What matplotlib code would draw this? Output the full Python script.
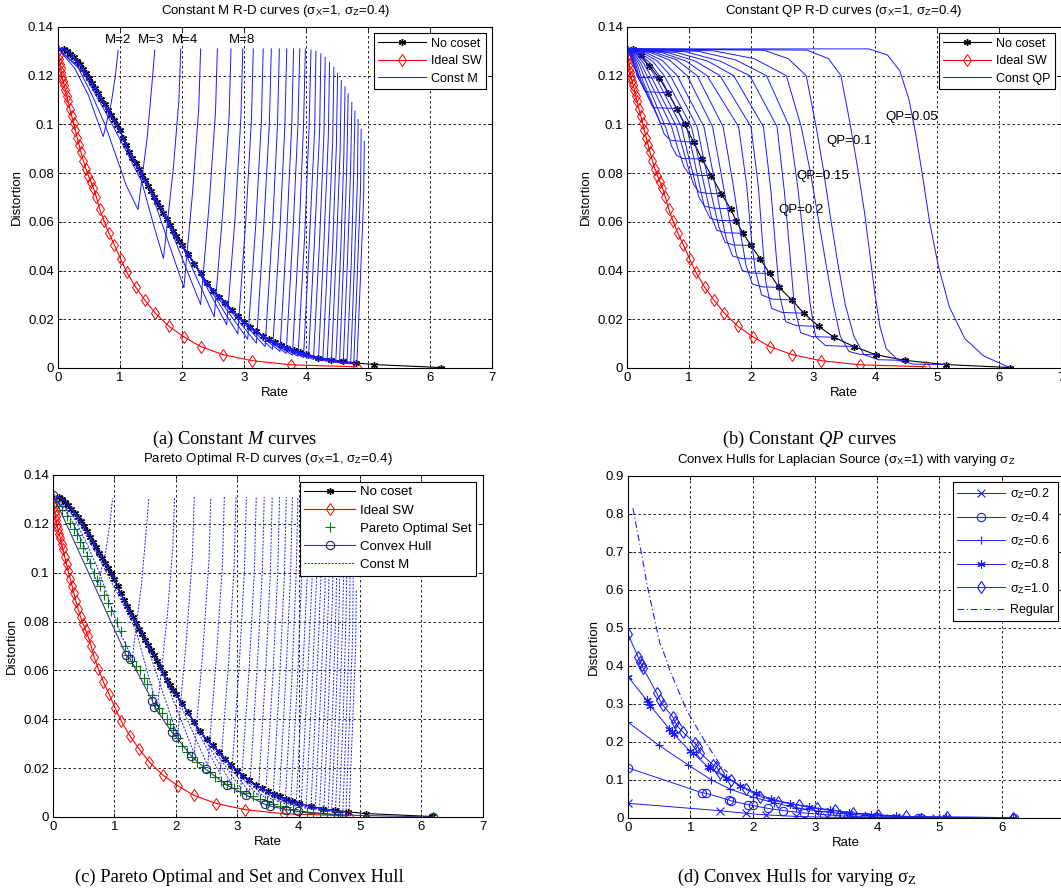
import matplotlib
matplotlib.use('Agg')
import matplotlib.pyplot as plt
from matplotlib.ticker import FuncFormatter

plt.rcParams['font.family'] = ['Liberation Sans', 'DejaVu Sans']
plt.rcParams['mathtext.fontset'] = 'custom'
plt.rcParams['mathtext.rm'] = 'Liberation Sans'
plt.rcParams['mathtext.it'] = 'Liberation Serif:italic'
plt.rcParams['mathtext.sf'] = 'Liberation Serif'

# ---------------- data ----------------
# no coset curve, dense sampling (panels a, c)
nocoset_rate = [0.10, 0.15, 0.20, 0.25, 0.30, 0.35, 0.40, 0.45, 0.50, 0.55, 0.60, 0.65, 0.70, 0.75,
                0.80, 0.85, 0.90, 0.95, 1.00, 1.05, 1.10, 1.15, 1.20, 1.25, 1.30, 1.35, 1.40, 1.45,
                1.50, 1.55, 1.60, 1.65, 1.70, 1.75, 1.80, 1.85, 1.90, 1.95, 2.00, 2.10, 2.20, 2.30,
                2.40, 2.50, 2.60, 2.70, 2.80, 2.90, 3.00, 3.10, 3.20, 3.30, 3.40, 3.50, 3.60, 3.70,
                3.80, 3.90, 4.00, 4.20, 4.40, 4.60, 4.80, 5.10, 6.17]
nocoset_dist = [0.1310, 0.1301, 0.1290, 0.1277, 0.1262, 0.1246, 0.1228, 0.1210, 0.1190, 0.1170,
                0.1148, 0.1127, 0.1104, 0.1082, 0.1060, 0.1039, 0.1018, 0.0997, 0.0975, 0.0945,
                0.0915, 0.0888, 0.0862, 0.0840, 0.0817, 0.0794, 0.0771, 0.0748, 0.0725, 0.0703,
                0.0682, 0.0661, 0.0638, 0.0612, 0.0588, 0.0562, 0.0541, 0.0521, 0.0503, 0.0466,
                0.0428, 0.0388, 0.0350, 0.0318, 0.0293, 0.0268, 0.0238, 0.0213, 0.0190, 0.0169,
                0.0150, 0.0132, 0.0118, 0.0105, 0.0094, 0.0084, 0.0074, 0.0065, 0.0056, 0.0043,
                0.0034, 0.0027, 0.0021, 0.0014, 0.0002]

# no coset curve as sampled in panel b (one star per QP)
nocoset_b_rate = [0.10, 0.22, 0.36, 0.52, 0.66, 0.80, 0.93, 1.075, 1.21, 1.36, 1.52, 1.67, 1.76, 1.87,
                  2.00, 2.15, 2.30, 2.45, 2.66, 2.85, 3.09, 3.34, 3.66, 4.02, 4.49, 5.15, 6.17]
nocoset_b_dist = [0.131, 0.1285, 0.124, 0.119, 0.113, 0.1065, 0.1000, 0.0926, 0.0858, 0.079, 0.0715,
                  0.0654, 0.0604, 0.0553, 0.0503, 0.0447, 0.0388, 0.0331, 0.0279, 0.0225, 0.0171,
                  0.0126, 0.0088, 0.0054, 0.0031, 0.0014, 0.0002]

# ideal Slepian-Wolf curve
ideal_rate = [0.00, 0.01, 0.02, 0.03, 0.04, 0.05, 0.065, 0.08, 0.10, 0.12, 0.14, 0.16, 0.19, 0.22,
              0.25, 0.28, 0.31, 0.34, 0.37, 0.41, 0.45, 0.49, 0.53, 0.57, 0.62, 0.67, 0.74, 0.82,
              0.91, 1.01, 1.11, 1.25, 1.40, 1.57, 1.79, 2.03, 2.30, 2.66, 3.13, 3.76, 4.82]
ideal_dist = [0.1300, 0.1285, 0.1268, 0.1250, 0.1232, 0.1215, 0.1195, 0.1178, 0.1160, 0.1140,
              0.1118, 0.1096, 0.1065, 0.1035, 0.1005, 0.0975, 0.0945, 0.0915, 0.0885, 0.0850,
              0.0817, 0.0790, 0.0765, 0.0740, 0.0700, 0.0654, 0.0604, 0.0553, 0.0505, 0.0447,
              0.0393, 0.0333, 0.0279, 0.0225, 0.0171, 0.0128, 0.0088, 0.0055, 0.0030, 0.0013, 0.0005]

# constant M curves, M = 2 .. 31
m_start_rate = 0.0
m_start_dist = 0.131
m_desc_rate = [[0.0, 0.27, 0.49, 0.62],
               [0.0, 0.30, 0.55, 0.76, 0.95, 1.10],
               [0.0, 0.40, 0.80, 1.10, 1.35, 1.55]]
m_desc_dist = [[0.131, 0.123, 0.112, 0.1026],
               [0.131, 0.1245, 0.112, 0.0998, 0.086, 0.075],
               [0.131, 0.1215, 0.1035, 0.089, 0.0765, 0.058]]
m_min_rate = [0.73, 1.29, 1.70, 2.03, 2.30, 2.52, 2.72, 2.90, 3.06, 3.20, 3.34, 3.46, 3.58, 3.68, 3.78,
              3.87, 3.96, 4.04, 4.12, 4.20, 4.27, 4.34, 4.41, 4.48, 4.54, 4.60, 4.66, 4.72, 4.77, 4.82]
m_min_dist = [0.095, 0.065, 0.045, 0.033, 0.026, 0.021, 0.0177, 0.0140, 0.0118, 0.0102, 0.0088, 0.0077,
              0.0068, 0.0060, 0.0053, 0.0048, 0.0043, 0.0039, 0.0035, 0.0032, 0.0029, 0.0027, 0.0025,
              0.0023, 0.0021, 0.0019, 0.0018, 0.0017, 0.0016, 0.0015]
m_mid_rate = [0.86, 1.44, 1.86, 2.17, 2.44, 2.66, 2.86, 3.03, 3.19, 3.32, 3.46, 3.58, 3.69, 3.79, 3.89,
              3.98, 4.06, 4.14, 4.22, 4.29, 4.36, 4.43, 4.49, 4.56, 4.61, 4.67, 4.73, 4.78, 4.83, 4.88]
m_mid_dist = [0.109, 0.095, 0.082, 0.072, 0.068, 0.065, 0.063, 0.061, 0.059, 0.059, 0.058, 0.057, 0.056,
              0.056, 0.056, 0.055, 0.055, 0.054, 0.053, 0.052, 0.051, 0.050, 0.049, 0.048, 0.046, 0.045,
              0.043, 0.042, 0.040, 0.038]
m_up_rate = [0.925, 1.52, 1.95, 2.27, 2.54, 2.76, 2.95, 3.12, 3.28, 3.41, 3.54, 3.66, 3.77, 3.87, 3.96,
             4.05, 4.14, 4.22, 4.29, 4.36, 4.43, 4.49, 4.55, 4.61, 4.66, 4.72, 4.77, 4.83, 4.88, 4.93]
m_up_dist = [0.120, 0.118, 0.110, 0.1065, 0.105, 0.1035, 0.103, 0.102, 0.101, 0.101, 0.100, 0.100, 0.100,
             0.100, 0.0996, 0.099, 0.098, 0.0977, 0.0965, 0.095, 0.093, 0.0914, 0.089, 0.087, 0.085,
             0.082, 0.080, 0.077, 0.074, 0.070]
m_top_rate = [0.97, 1.56, 1.98, 2.30, 2.57, 2.79, 2.98, 3.15, 3.31, 3.44, 3.57, 3.69, 3.80, 3.90, 3.99,
              4.08, 4.16, 4.24, 4.31, 4.38, 4.45, 4.51, 4.57, 4.63, 4.68, 4.74, 4.79, 4.84, 4.89, 4.94]
m_top_dist = [0.1305, 0.1305, 0.131, 0.131, 0.131, 0.131, 0.131, 0.131, 0.131, 0.131, 0.131, 0.131,
              0.131, 0.131, 0.131, 0.1305, 0.130, 0.129, 0.1275, 0.1255, 0.1235, 0.121, 0.118, 0.1155,
              0.1125, 0.109, 0.1055, 0.102, 0.098, 0.093]
m_labels = ['M=2', 'M=3', 'M=4', 'M=8']
m_label_rate = [0.76, 1.29, 1.84, 2.75]

# constant QP curves (QP = 0.05, 0.1, ... 1.0, then the coarser ones)
qp_rate = [
    [0, 3.9, 4.2, 4.4, 4.55, 4.65, 4.76, 4.88, 5.02, 5.2, 5.45, 5.75, 6.17],
    [0, 2.9, 3.25, 3.45, 3.6, 3.72, 3.83, 3.92, 4.0, 4.08, 4.18, 4.38, 4.62, 5.15],
    [0, 2.2, 2.6, 2.89, 3.05, 3.17, 3.28, 3.4, 3.52, 3.66, 3.82, 4.05, 4.49],
    [0, 1.4, 2.05, 2.57, 2.81, 2.96, 3.08, 3.2, 3.32, 3.44, 3.58, 3.75, 4.02],
    [0, 1.15, 1.75, 2.25, 2.62, 2.75, 2.86, 2.95, 3.04, 3.2, 3.66],
    [0, 0.95, 1.5, 1.98, 2.42, 2.54, 2.63, 2.7, 2.8, 2.98, 3.34],
    [0, 0.8, 1.3, 1.72, 2.2, 2.32, 2.4, 2.46, 2.56, 2.73, 3.09],
    [0, 0.66, 1.1, 1.5, 2.0, 2.12, 2.19, 2.24, 2.33, 2.5, 2.85],
    [0, 0.56, 0.95, 1.29, 1.8, 1.93, 2.01, 2.07, 2.17, 2.34, 2.66],
    [0, 0.45, 0.8, 1.13, 1.55, 1.7, 1.82, 1.92, 2.02, 2.18, 2.45],
    [0, 0.38, 0.68, 0.97, 1.38, 1.53, 1.66, 1.76, 1.86, 2.0, 2.30],
    [0, 0.32, 0.57, 0.81, 1.24, 1.38, 1.5, 1.6, 1.7, 1.85, 2.15],
    [0, 0.27, 0.49, 0.7, 1.13, 1.26, 1.38, 1.48, 1.58, 1.72, 2.00],
    [0, 0.23, 0.42, 0.6, 1.04, 1.16, 1.27, 1.36, 1.45, 1.6, 1.87],
    [0, 0.2, 0.36, 0.52, 0.96, 1.07, 1.16, 1.25, 1.34, 1.48, 1.76],
    [0, 0.17, 0.31, 0.45, 0.88, 0.98, 1.08, 1.16, 1.25, 1.4, 1.67],
    [0, 0.15, 0.27, 0.38, 0.8, 0.9, 0.99, 1.07, 1.16, 1.3, 1.52],
    [0, 0.13, 0.23, 0.32, 0.72, 0.82, 0.92, 1.0, 1.15, 1.36],
    [0, 0.11, 0.2, 0.27, 0.62, 0.72, 0.8, 0.9, 1.21],
    [0, 0.1, 0.17, 0.22, 0.5, 0.6, 0.7, 1.075],
    [0, 0.09, 0.15, 0.19, 0.54, 0.93],
    [0, 0.08, 0.13, 0.17, 0.42, 0.80],
    [0, 0.07, 0.12, 0.16, 0.3, 0.66],
    [0, 0.06, 0.11, 0.2, 0.52],
]
qp_dist = [
    [0.131, 0.131, 0.1285, 0.122, 0.110, 0.097, 0.080, 0.060, 0.042, 0.025, 0.012, 0.005, 0.0002],
    [0.131, 0.1305, 0.127, 0.120, 0.100, 0.082, 0.064, 0.046, 0.030, 0.017, 0.008, 0.003, 0.0016, 0.0014],
    [0.131, 0.1305, 0.127, 0.120, 0.099, 0.081, 0.062, 0.043, 0.026, 0.013, 0.0055, 0.0034, 0.0031],
    [0.131, 0.1302, 0.127, 0.120, 0.099, 0.080, 0.062, 0.044, 0.027, 0.013, 0.0068, 0.0056, 0.0054],
    [0.131, 0.1300, 0.1265, 0.120, 0.099, 0.075, 0.050, 0.027, 0.013, 0.0092, 0.0088],
    [0.131, 0.1298, 0.126, 0.120, 0.099, 0.072, 0.046, 0.025, 0.0145, 0.0129, 0.0126],
    [0.131, 0.1295, 0.126, 0.120, 0.099, 0.073, 0.048, 0.030, 0.019, 0.0174, 0.0171],
    [0.131, 0.1295, 0.126, 0.120, 0.099, 0.074, 0.050, 0.035, 0.0245, 0.0228, 0.0225],
    [0.131, 0.1295, 0.126, 0.120, 0.099, 0.075, 0.052, 0.040, 0.030, 0.0283, 0.0279],
    [0.131, 0.1295, 0.1265, 0.120, 0.099, 0.077, 0.057, 0.042, 0.0345, 0.0333, 0.0331],
    [0.131, 0.1295, 0.1265, 0.120, 0.099, 0.078, 0.060, 0.047, 0.040, 0.0390, 0.0388],
    [0.131, 0.1293, 0.1262, 0.120, 0.099, 0.081, 0.065, 0.053, 0.0460, 0.0449, 0.0447],
    [0.131, 0.1292, 0.126, 0.120, 0.099, 0.083, 0.069, 0.058, 0.0516, 0.0505, 0.0503],
    [0.131, 0.129, 0.1258, 0.120, 0.099, 0.085, 0.072, 0.062, 0.0565, 0.0555, 0.0553],
    [0.131, 0.129, 0.1255, 0.120, 0.099, 0.087, 0.076, 0.066, 0.0615, 0.0606, 0.0604],
    [0.131, 0.1288, 0.1252, 0.120, 0.099, 0.088, 0.078, 0.070, 0.0664, 0.0656, 0.0654],
    [0.131, 0.1287, 0.125, 0.120, 0.099, 0.090, 0.082, 0.0755, 0.0722, 0.0717, 0.0715],
    [0.131, 0.1285, 0.1248, 0.120, 0.099, 0.090, 0.0825, 0.0796, 0.0791, 0.079],
    [0.131, 0.1284, 0.1245, 0.120, 0.099, 0.091, 0.0873, 0.0860, 0.0858],
    [0.131, 0.1283, 0.1243, 0.120, 0.103, 0.096, 0.0935, 0.0926],
    [0.131, 0.128, 0.124, 0.120, 0.1004, 0.1000],
    [0.131, 0.128, 0.124, 0.120, 0.1069, 0.1065],
    [0.131, 0.128, 0.124, 0.120, 0.1134, 0.113],
    [0.131, 0.128, 0.124, 0.1193, 0.119],
]
qp_labels = ['QP=0.05', 'QP=0.1', 'QP=0.15', 'QP=0.2']
qp_label_rate = [4.16, 3.21, 2.73, 2.44]
qp_label_dist = [0.103, 0.0933, 0.079, 0.0647]

# pareto optimal set and convex hull (sigma_z = 0.4)
pareto_rate = [0.0, 0.05, 0.10, 0.15, 0.22, 0.28, 0.34, 0.39, 0.44, 0.49, 0.55, 0.60, 0.66, 0.71, 0.77,
               0.83, 0.89, 0.95, 1.04, 1.10, 1.17, 1.22, 1.28, 1.35, 1.42, 1.48, 1.53, 1.61, 1.66, 1.72,
               1.78, 1.85, 1.90, 1.96, 2.03, 2.10, 2.18, 2.26, 2.35, 2.45, 2.55, 2.64, 2.73, 2.83, 2.94,
               3.05, 3.15, 3.26, 3.37, 3.48, 3.59, 3.70, 3.80, 3.91, 4.02, 4.13, 4.24, 4.35, 4.46, 4.57,
               4.68, 6.19]
pareto_dist = [0.1315, 0.1295, 0.1275, 0.1255, 0.1230, 0.1205, 0.1180, 0.1155, 0.1125, 0.1100, 0.1070,
               0.1040, 0.1000, 0.0970, 0.0945, 0.0910, 0.0875, 0.0845, 0.0800, 0.0760, 0.0700, 0.0665,
               0.0640, 0.0620, 0.0600, 0.0570, 0.0545, 0.0500, 0.0460, 0.0445, 0.0425, 0.0400, 0.0380,
               0.0355, 0.0325, 0.0290, 0.0268, 0.0247, 0.0225, 0.0205, 0.0185, 0.0165, 0.0148, 0.0135,
               0.0120, 0.0108, 0.0097, 0.0086, 0.0075, 0.0065, 0.0055, 0.0045, 0.0039, 0.0032, 0.0026,
               0.0022, 0.0018, 0.0015, 0.0013, 0.0011, 0.0008, 0.0000]
hull_rate = [0.0, 1.19, 1.26, 1.62, 1.65, 1.93, 2.00, 2.25, 2.49, 2.83, 3.14, 3.45, 3.53, 3.80, 3.99,
             4.65, 4.70, 6.19]
hull_dist = [0.1318, 0.0663, 0.0645, 0.0475, 0.0452, 0.0349, 0.0329, 0.0250, 0.0195, 0.0131, 0.0090,
             0.0052, 0.0045, 0.0030, 0.0023, 0.0009, 0.0008, 0.0000]

# convex hulls for varying sigma_z (panel d)
sz02_rate = [0, 1.48, 1.90, 2.22, 2.70, 3.19, 3.60, 4.10, 4.95]
sz02_dist = [0.0386, 0.0190, 0.0120, 0.0080, 0.0040, 0.0020, 0.0012, 0.0006, 0.0]
sz06_rate = [0, 0.49, 0.97, 1.34, 1.64, 2.00, 2.35, 2.70, 3.05, 3.40, 3.80, 4.35, 6.18]
sz06_dist = [0.252, 0.192, 0.139, 0.100, 0.076, 0.055, 0.040, 0.027, 0.018, 0.012, 0.007, 0.003, 0.001]
sz08_rate = [0, 0.30, 0.33, 0.36, 0.66, 0.70, 0.74, 1.00, 1.05, 1.28, 1.32, 1.58, 1.80, 2.05, 2.30,
             2.60, 2.90, 3.25, 3.55, 3.90, 4.30, 4.70, 5.10, 6.18]
sz08_dist = [0.372, 0.310, 0.302, 0.295, 0.235, 0.227, 0.220, 0.175, 0.170, 0.135, 0.131, 0.105, 0.085,
             0.066, 0.050, 0.038, 0.028, 0.020, 0.014, 0.009, 0.005, 0.003, 0.002, 0.001]
sz10_rate = [0, 0.16, 0.19, 0.22, 0.24, 0.46, 0.51, 0.56, 0.72, 0.75, 0.80, 0.88, 1.07, 1.12, 1.16,
             1.37, 1.42, 1.48, 1.66, 1.90, 2.12, 2.41, 2.75, 3.03, 3.32, 3.61, 4.01, 4.47, 5.12, 6.18]
sz10_dist = [0.484, 0.424, 0.411, 0.403, 0.395, 0.329, 0.310, 0.297, 0.266, 0.253, 0.240, 0.226, 0.197,
             0.188, 0.171, 0.139, 0.135, 0.118, 0.100, 0.075, 0.056, 0.043, 0.034, 0.026, 0.020, 0.013,
             0.008, 0.004, 0.002, 0.001]
regular_rate = [0.08, 0.25, 0.30, 0.51, 0.54, 0.67, 0.94, 1.24, 1.50, 1.60]
regular_dist = [0.815, 0.666, 0.618, 0.460, 0.451, 0.389, 0.284, 0.200, 0.135, 0.120]

rate_ticks = [0, 1, 2, 3, 4, 5, 6, 7]
rd_ticks = [0, 0.02, 0.04, 0.06, 0.08, 0.1, 0.12, 0.14]
hull_ticks = [0, 0.1, 0.2, 0.3, 0.4, 0.5, 0.6, 0.7, 0.8, 0.9]

BLUE = '#1a1aff'
STAR = (6, 2, 0)
FS = 9.5


def const_m_curve(i):
    # follow the no coset band, leave it, dip to the minimum, then climb to log2(M)
    if i < len(m_desc_rate):
        rate = list(m_desc_rate[i])
        dist = list(m_desc_dist[i])
    else:
        rate = [m_start_rate]
        dist = [m_start_dist]
        for r, d in zip(nocoset_rate, nocoset_dist):
            if r < m_min_rate[i] - 0.5:
                rate.append(r)
                dist.append(d)
    rate += [m_min_rate[i], m_mid_rate[i], m_up_rate[i], m_top_rate[i]]
    dist += [m_min_dist[i], m_mid_dist[i], m_up_dist[i], m_top_dist[i]]
    return rate, dist


def style_axes(ax, yticks, ymax):
    ax.set_xlim(0, 7)
    ax.set_ylim(0, ymax)
    ax.set_xticks(rate_ticks)
    ax.set_yticks(yticks)
    ax.yaxis.set_major_formatter(FuncFormatter(lambda v, p: '0' if v == 0 else '%g' % v))
    ax.grid(True, linestyle=(0, (3, 3)), color='black', linewidth=0.6)
    ax.tick_params(direction='in', top=True, right=True, length=3, width=0.6, labelsize=FS, pad=3)
    for s in ax.spines.values():
        s.set_linewidth(0.8)
    ax.set_xlabel('Rate', fontsize=FS, labelpad=2)
    ax.set_ylabel('Distortion', fontsize=FS, labelpad=4)


def add_legend(ax, spacing, size):
    leg = ax.legend(loc='upper right', fontsize=size, handlelength=3.8, labelspacing=spacing,
                    borderaxespad=0.5, fancybox=False, framealpha=1, edgecolor='black',
                    handletextpad=0.4, borderpad=0.35)
    leg.get_frame().set_linewidth(0.8)


def plot_base(ax):
    ax.plot(nocoset_rate, nocoset_dist, '-', color='black', marker=STAR, markersize=5,
            linewidth=0.8, label='No coset')
    ax.plot(ideal_rate, ideal_dist, '-', color='red', marker='d', markersize=6, mfc='none',
            mew=0.7, linewidth=0.8, label='Ideal SW')


fig = plt.figure(figsize=(10.61, 8.96), dpi=100)

# (a) constant M
ax = fig.add_axes([0.0547, 0.5893, 0.409, 0.3806])
plot_base(ax)
for i in range(len(m_top_rate)):
    r, d = const_m_curve(i)
    ax.plot(r, d, color=BLUE, linewidth=0.7, label='Const M' if i == 0 else None)
for name, xr in zip(m_labels, m_label_rate):
    ax.text(xr, 0.1346, name, fontsize=FS, va='center', ha='left')
style_axes(ax, rd_ticks, 0.14)
ax.set_title('Constant M R-D curves (σ$_\\mathrm{X}$=1, σ$_\\mathrm{Z}$=0.4)', fontsize=FS, pad=9)
add_legend(ax, 0.45, 9)

# (b) constant QP
ax = fig.add_axes([0.591, 0.5893, 0.409, 0.3806])
ax.plot(nocoset_b_rate, nocoset_b_dist, '-', color='black', marker=STAR, markersize=5,
        linewidth=0.8, label='No coset')
ax.plot(ideal_rate, ideal_dist, '-', color='red', marker='d', markersize=6, mfc='none',
        mew=0.7, linewidth=0.8, label='Ideal SW')
for i in range(len(qp_rate)):
    ax.plot(qp_rate[i], qp_dist[i], color=BLUE, linewidth=0.7, label='Const QP' if i == 0 else None)
for name, xr, yd in zip(qp_labels, qp_label_rate, qp_label_dist):
    ax.text(xr, yd, name, fontsize=FS, va='center', ha='left')
style_axes(ax, rd_ticks, 0.14)
ax.set_title('Constant QP R-D curves (σ$_\\mathrm{X}$=1, σ$_\\mathrm{Z}$=0.4)', fontsize=FS, pad=9)
add_legend(ax, 0.45, 9)

# (c) pareto optimal
ax = fig.add_axes([0.050, 0.0882, 0.405, 0.3817])
plot_base(ax)
ax.plot(pareto_rate, pareto_dist, linestyle='none', color='#008000', marker='+', markersize=7,
        mew=0.8, label='Pareto Optimal Set')
ax.plot(hull_rate, hull_dist, '-', color='#3a3a8a', marker='o', markersize=6, mfc='none',
        mec='#1a2a6a', mew=0.8, linewidth=0.8, label='Convex Hull')
for i in range(len(m_top_rate)):
    r, d = const_m_curve(i)
    ax.plot(r, d, color=BLUE, linewidth=0.7, linestyle=(0, (2, 1.5)),
            label='Const M' if i == 0 else None)
style_axes(ax, rd_ticks, 0.14)
ax.set_title('Pareto Optimal R-D curves (σ$_\\mathrm{X}$=1, σ$_\\mathrm{Z}$=0.4)', fontsize=FS, pad=9)
add_legend(ax, 0.45, 9.5)

# (d) convex hulls for varying sigma_z
ax = fig.add_axes([0.5919, 0.0871, 0.411, 0.3817])
hull_series = [(sz02_rate, sz02_dist, 'x', 'σ$_\\mathrm{Z}$=0.2'),
               (hull_rate, hull_dist, 'o', 'σ$_\\mathrm{Z}$=0.4'),
               (sz06_rate, sz06_dist, '+', 'σ$_\\mathrm{Z}$=0.6'),
               (sz08_rate, sz08_dist, STAR, 'σ$_\\mathrm{Z}$=0.8'),
               (sz10_rate, sz10_dist, 'd', 'σ$_\\mathrm{Z}$=1.0')]
for r, d, mk, name in hull_series:
    ax.plot(r, d, '-', color=BLUE, marker=mk, markersize=6, mfc='none', mew=0.8,
            linewidth=0.7, label=name)
ax.plot(regular_rate, regular_dist, color=BLUE, linestyle=(0, (6, 2.5, 1, 2.5)), linewidth=0.8,
        label='Regular')
style_axes(ax, hull_ticks, 0.9)
ax.set_title('Convex Hulls for Laplacian Source (σ$_\\mathrm{X}$=1) with varying σ$_\\mathrm{Z}$',
             fontsize=FS, pad=9)
add_legend(ax, 0.7, 9)

# captions
cap = dict(fontsize=13.3, family='Liberation Serif', ha='center', va='center')
fig.text(0.2215, 0.510, '(a) Constant $\\mathit{M}$ curves', **cap)
fig.text(0.7634, 0.510, '(b) Constant $\\mathit{QP}$ curves', **cap)
fig.text(0.226, 0.0212, '(c) Pareto Optimal and Set and Convex Hull', **cap)
fig.text(0.751, 0.0212, '(d) Convex Hulls for varying σ$_\\mathsf{Z}$', **cap)

plt.savefig('out.png', dpi=100)
plt.close()
